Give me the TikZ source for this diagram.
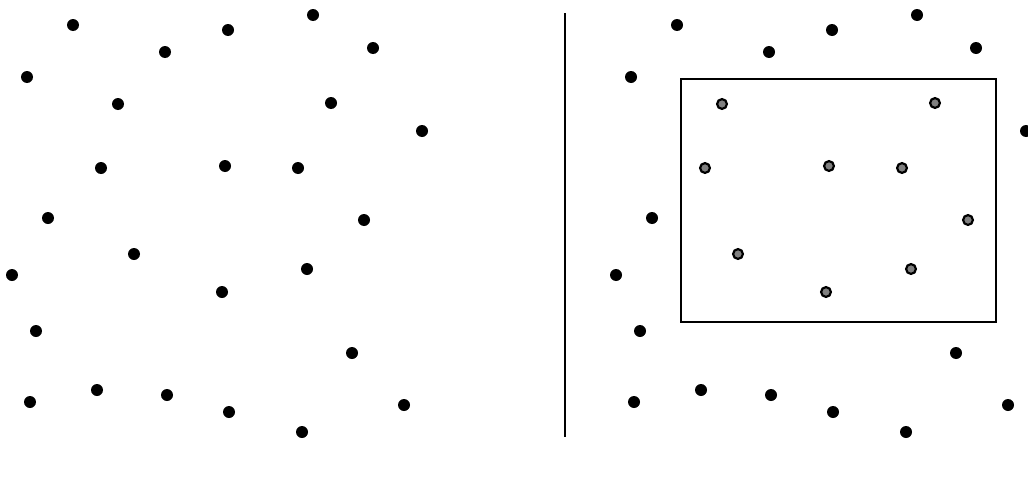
\documentclass[tikz,border=0pt]{standalone}
\begin{document}
\begin{tikzpicture}[x=1pt,y=-1pt,
  dot/.style={circle,fill=black,inner sep=0pt,minimum size=12pt},
  seldot/.style={circle,fill=gray,draw=black,line width=2.2pt,inner sep=0pt,minimum size=9.8pt},
  frame/.style={draw=black,line width=2.5pt},
  divider/.style={draw=black,line width=1.5pt}]
\useasboundingbox (0,0) rectangle (1028,479);
% left panel
\foreach \x/\y [count=\i] in {73/25,165/52,228/30,313/15,373/48,27/77,118/104,331/103,422/131,101/168,225/166,298/168,48/218,364/220,134/254,12/275,307/269,222/292,36/331,352/353,30/402,97/390,167/395,229/412,302/432,404/405}
  \node[dot] (p\i) at (\x,\y) {};
% divider
\coordinate (d1) at (565,13);
\coordinate (d2) at (565,437);
\draw[divider] (d1) -- (d2);
% right panel: outside points
\foreach \x/\y [count=\i] in {677/25,769/52,832/30,917/15,976/48,631/77,1026/131,652/218,616/275,640/331,956/353,634/402,701/390,771/395,833/412,906/432,1008/405}
  \node[dot] (q\i) at (\x,\y) {};
% selection frame
\node[frame,minimum width=315pt,minimum height=243pt,inner sep=0pt] (box) at (838.5,200.5) {};
% selected points
\foreach \x/\y [count=\i] in {722/104,935/103,705/168,829/166,902/168,968/220,738/254,911/269,826/292}
  \node[seldot] (s\i) at (\x,\y) {};
\end{tikzpicture}
\end{document}
